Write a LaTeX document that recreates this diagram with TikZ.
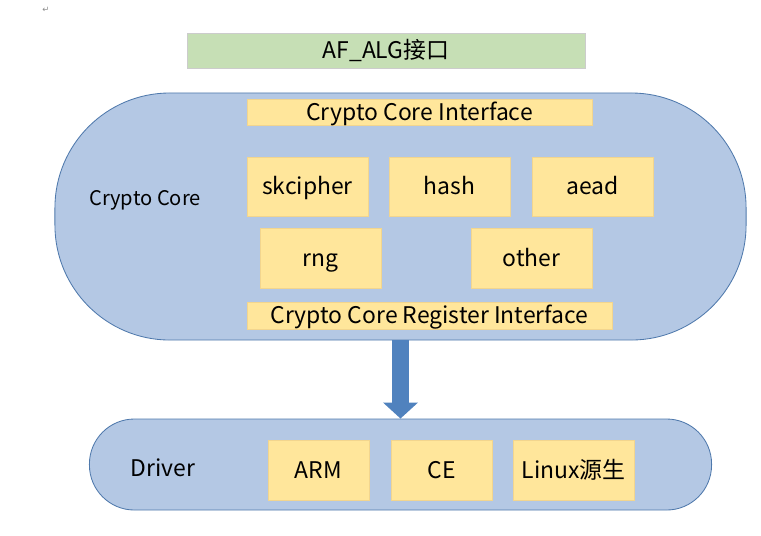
\documentclass[tikz,border=0pt]{standalone}
\usepackage{fontspec}
\setmainfont{Noto Sans CJK SC}
\newfontfamily\marksfont{DejaVu Sans}
\usetikzlibrary{arrows.meta, shadows}
\definecolor{layerblue}{HTML}{B4C8E4}
\definecolor{layeredge}{HTML}{4F79AC}
\definecolor{moduleyellow}{HTML}{FFE69B}
\definecolor{moduleedge}{HTML}{F2D58E}
\definecolor{apigreen}{HTML}{C6DFB5}
\definecolor{arrowblue}{HTML}{5082BE}
\tikzset{
    layer/.style={rectangle, draw=layeredge, fill=layerblue, line width=0.6pt, inner sep=0pt},
    module/.style={rectangle, draw=moduleedge, fill=moduleyellow, inner sep=0pt, font=\fontsize{16.3}{19}\selectfont,
        text height=13pt, text depth=1pt,
        drop shadow={shadow xshift=0.6pt, shadow yshift=-0.6pt, opacity=0.15}},
    api/.style={rectangle, draw=black!20, fill=apigreen, inner sep=0pt, font=\fontsize{16.3}{19}\selectfont,
        drop shadow={shadow xshift=0.6pt, shadow yshift=-0.6pt, opacity=0.15}},
    tag/.style={inner sep=0pt, font=\fontsize{16.3}{19}\selectfont},
    bigarrow/.style={draw=arrowblue, line width=0.425cm, -{Triangle[width=0.85cm, length=0.4cm]}}
}
\begin{document}
\begin{tikzpicture}[x=0.025cm, y=-0.025cm]
    \useasboundingbox (0,0) rectangle (761,535);

    % paragraph mark
    \node[inner sep=0pt, text=black!45, font=\marksfont\fontsize{6}{7}\selectfont] (mark) at (46,10) {↵};

    % AF_ALG
    \node[api, minimum width=9.95cm, minimum height=0.875cm] (afalg) at (386,50.5) {AF\_ALG接口};

    % Crypto Core
    \node[layer, rounded corners=2.875cm, minimum width=17.275cm, minimum height=6.175cm] (core) at (400.5,216.5) {};
    \node[tag, font=\fontsize{14.3}{17}\selectfont] (coretag) at (145,200) {Crypto Core};
    \node[module, minimum width=8.625cm, minimum height=0.65cm] (cci) at (419.5,112) {Crypto Core Interface};
    \node[module, minimum width=3.025cm, minimum height=1.475cm] (skcipher) at (307.5,186.5) {skcipher};
    \node[module, minimum width=3.025cm, minimum height=1.475cm] (hash) at (449.5,186.5) {hash};
    \node[module, minimum width=3.025cm, minimum height=1.475cm] (aead) at (592.5,186.5) {aead};
    \node[module, minimum width=3.025cm, minimum height=1.5cm] (rng) at (320.5,258) {rng};
    \node[module, minimum width=3.025cm, minimum height=1.5cm] (other) at (531.5,258) {other};
    \node[module, minimum width=9.125cm, minimum height=0.675cm] (ccri) at (429.5,315.5) {Crypto Core Register Interface};

    % Driver
    \node[layer, rounded corners=1.125cm, minimum width=15.55cm, minimum height=2.275cm] (driver) at (400.5,464.5) {};
    \node[tag] (drivertag) at (163,468) {Driver};
    \node[module, minimum width=2.525cm, minimum height=1.5cm] (arm) at (318.5,470) {ARM};
    \node[module, minimum width=2.525cm, minimum height=1.5cm] (ce) at (441.5,470) {CE};
    \node[module, minimum width=3.025cm, minimum height=1.5cm] (native) at (573.5,470) {Linux源生};

    \draw[bigarrow] (core.south) -- (driver.north);
\end{tikzpicture}
\end{document}
